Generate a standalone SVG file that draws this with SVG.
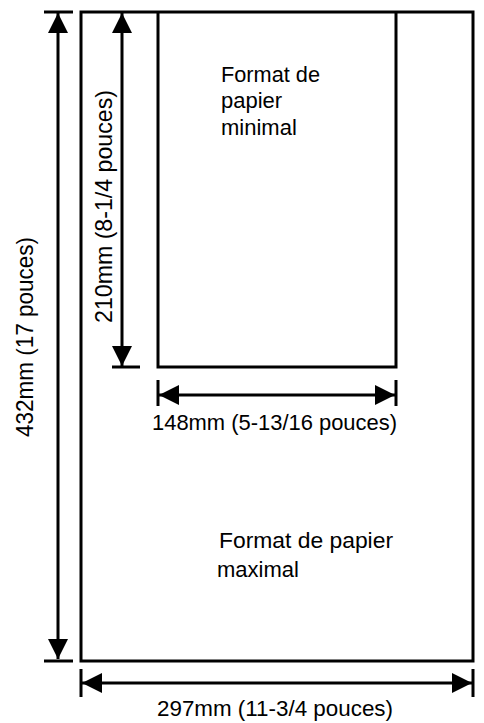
<svg xmlns="http://www.w3.org/2000/svg" width="484" height="723" viewBox="0 0 484 723">
<style>
.box{fill:none;stroke:#000;stroke-width:3}
.dim{stroke:#000;stroke-width:3;fill:none}
.arr{marker-start:url(#ah);marker-end:url(#ah)}
text{font-family:"Liberation Sans",Arial,sans-serif;font-size:22px;fill:#000}
.vt{font-size:24px}
</style>
<defs>
<marker id="ah" markerUnits="userSpaceOnUse" markerWidth="20" markerHeight="20" refX="20" refY="10" orient="auto-start-reverse">
<path d="M0,0 L20,10 L0,20 z" fill="#000"/>
</marker>
</defs>
<rect width="484" height="723" fill="#fff"/>
<g id="max-paper">
<rect class="box" x="81" y="12" width="392" height="649"/>
<text x="219" y="548" textLength="174" lengthAdjust="spacingAndGlyphs">Format de papier</text>
<text x="217" y="577">maximal</text>
</g>
<g id="min-paper">
<polyline class="box" points="158,12 158,367 396,367 396,12"/>
<text x="221" y="82" textLength="99" lengthAdjust="spacingAndGlyphs">Format de</text>
<text x="221" y="108">papier</text>
<text x="221" y="135">minimal</text>
</g>
<g id="connectors">
<line class="dim" x1="44" y1="12" x2="73" y2="12"/>
<line class="dim" x1="44" y1="661" x2="73" y2="661"/>
<line class="dim arr" x1="58" y1="13" x2="58" y2="659"/>
<line class="dim" x1="112" y1="367" x2="140" y2="367"/>
<line class="dim arr" x1="122" y1="13" x2="122" y2="366"/>
<line class="dim" x1="158" y1="380" x2="158" y2="406"/>
<line class="dim" x1="396" y1="380" x2="396" y2="406"/>
<line class="dim arr" x1="159" y1="395" x2="395" y2="395"/>
<line class="dim" x1="81" y1="669" x2="81" y2="697"/>
<line class="dim" x1="473" y1="669" x2="473" y2="697"/>
<line class="dim arr" x1="82" y1="683" x2="472" y2="683"/>
</g>
<g id="labels">
<text x="152" y="430" textLength="245" lengthAdjust="spacingAndGlyphs">148mm (5-13/16 pouces)</text>
<text x="157" y="716" textLength="236" lengthAdjust="spacingAndGlyphs">297mm (11-3/4 pouces)</text>
<text class="vt" transform="translate(33,437) rotate(-90)" textLength="200" lengthAdjust="spacingAndGlyphs">432mm (17 pouces)</text>
<text class="vt" transform="translate(112,323) rotate(-90)" textLength="233" lengthAdjust="spacingAndGlyphs">210mm (8-1/4 pouces)</text>
</g>
</svg>
